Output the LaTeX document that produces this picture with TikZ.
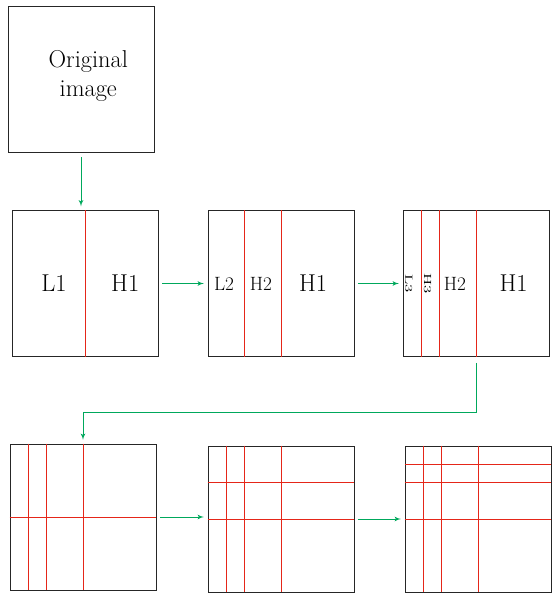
\documentclass[tikz,border=0pt]{standalone}
\usepackage{tikz}
\usetikzlibrary{arrows}
\definecolor{mgreen}{rgb}{0.0, 0.66, 0.36}
\definecolor{mred}{rgb}{0.9, 0.15, 0.1}
\tikzset{img/.style  = {draw=black!85, line width=0.7pt, minimum size=4cm, inner sep=0pt},
         cut/.style  = {mred, line width=0.75pt},
         flow/.style = {-latex', mgreen, line width=0.7pt, shorten <=0.13cm, shorten >=0.1cm},
         big/.style  = {font=\fontsize{19}{23}\selectfont},
         mid/.style  = {font=\fontsize{15}{18}\selectfont},
         band/.style = {rotate=-90, yscale=0.62, font=\fontsize{13}{15}\selectfont}}

\begin{document}
\begin{tikzpicture}
    \useasboundingbox (0, 0) rectangle (15.205, 16.356);

    % input and first three levels
    \node [img] (orig) at (2.219, 14.19) {};
    \node [big, align=center] (origtxt) at ([xshift=0.2cm, yshift=0.08cm]orig.center) {Original\\image};

    \node [img] (lone)   at (2.329, 8.589) {};
    \node [img] (ltwo)   at (7.699, 8.589) {};
    \node [img] (lthree) at (13.041, 8.589) {};

    \draw [cut] (lone.north) -- (lone.south);
    \foreach \d in {0, -1}
      \draw [cut] ([xshift=\d cm]ltwo.north) -- ([xshift=\d cm]ltwo.south);
    \foreach \d in {0, -1, -1.5}
      \draw [cut] ([xshift=\d cm]lthree.north) -- ([xshift=\d cm]lthree.south);

    \node [big] (lonel) at ([xshift=-0.85cm]lone.center) {L1};
    \node [big] (loneh) at ([xshift=1.1cm]lone.center) {H1};
    \node [mid] (ltwol)  at ([xshift=-1.56cm]ltwo.center) {L2};
    \node [mid] (ltwoh)  at ([xshift=-0.55cm]ltwo.center) {H2};
    \node [big] (ltwohh) at ([xshift=0.88cm]ltwo.center) {H1};
    \node [band] (lthreel) at ([xshift=-1.84cm]lthree.center) {L3};
    \node [band] (lthreeh) at ([xshift=-1.33cm]lthree.center) {H3};
    \node [mid] (lthreehh)  at ([xshift=-0.58cm]lthree.center) {H2};
    \node [big] (lthreehhh) at ([xshift=1.03cm]lthree.center) {H1};

    % second pass, rows then
    \node [img] (gone)   at (2.274, 2.192) {};
    \node [img] (gtwo)   at (7.699, 2.137) {};
    \node [img] (gthree) at (13.096, 2.137) {};

    \foreach \g in {gone, gtwo, gthree}
      \foreach \d in {0, -1, -1.5}
        \draw [cut] ([xshift=\d cm]\g.north) -- ([xshift=\d cm]\g.south);
    \draw [cut] (gone.west) -- (gone.east);
    \foreach \d in {0, 1}
      \draw [cut] ([yshift=\d cm]gtwo.west) -- ([yshift=\d cm]gtwo.east);
    \foreach \d in {0, 1, 1.5}
      \draw [cut] ([yshift=\d cm]gthree.west) -- ([yshift=\d cm]gthree.east);

    % arrows
    \coordinate (turn) at (2.274, 5.068);
    \draw [flow] (orig.south) -- (orig.south |- lone.north);
    \draw [flow, shorten <=0.1cm] (lone.east) -- (ltwo.west);
    \draw [flow, shorten <=0.1cm] (ltwo.east) -- (lthree.west);
    \draw [flow, shorten <=0.16cm] (lthree.south) |- (turn) -- (gone.north);
    \draw [flow, shorten <=0.1cm] (gone.east) -- (gone.east -| gtwo.west);
    \draw [flow, shorten <=0.1cm] (gtwo.east) -- (gthree.west);
  \end{tikzpicture}
\end{document}
